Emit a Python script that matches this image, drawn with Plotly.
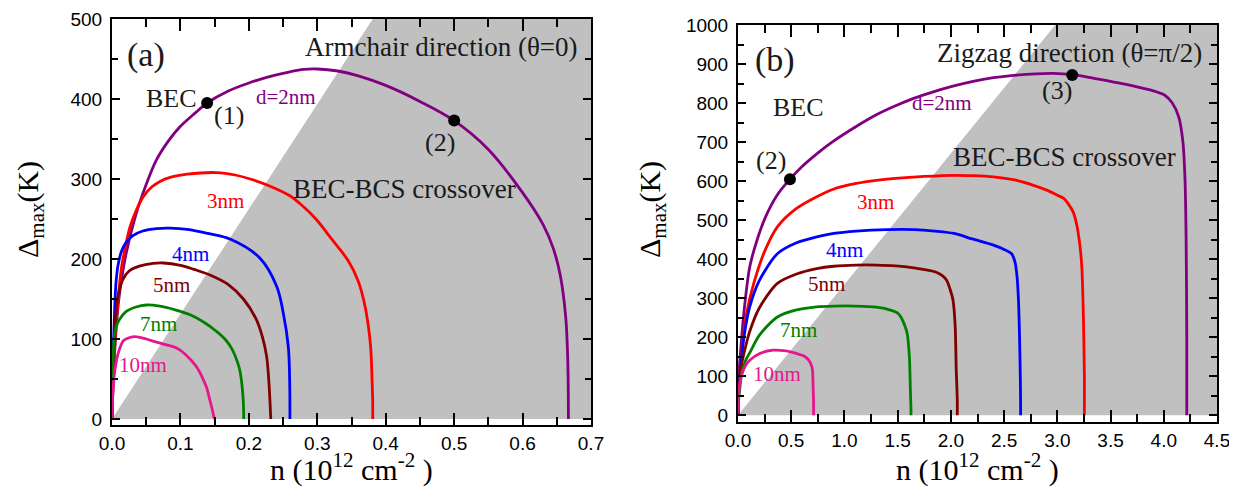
import plotly.graph_objects as go

# ---------------- data: panel (a) armchair ----------------
a_2nm_n = [0, 0.002, 0.005, 0.01, 0.0202, 0.0347, 0.053, 0.065, 0.082, 0.099, 0.1222, 0.139, 0.17, 0.2, 0.23, 0.26, 0.28, 0.3, 0.33, 0.36, 0.4, 0.45, 0.5, 0.55, 0.6, 0.63, 0.645, 0.655, 0.663, 0.666, 0.667]
a_2nm_d = [0, 50, 100, 150, 205, 255, 300, 324, 347, 365, 383, 395, 410, 420, 428, 434, 437, 437.5, 435, 429, 417, 397, 373, 337, 283, 243, 213, 180, 128, 75, 0]
a_3nm_n = [0, 0.002, 0.005, 0.009, 0.014, 0.02, 0.0263, 0.035, 0.0458, 0.058, 0.0702, 0.085, 0.11, 0.153, 0.18, 0.202, 0.231, 0.26, 0.275, 0.298, 0.32, 0.345, 0.36, 0.368, 0.374, 0.378, 0.38, 0.381, 0.381]
a_3nm_d = [0, 55, 105, 150, 190, 217, 240, 260, 278, 290, 297, 302, 306, 308, 305, 300, 291, 279, 269, 250, 226, 198, 172, 148, 120, 90, 50, 20, 0]
a_4nm_n = [0, 0.002, 0.004, 0.006, 0.009, 0.014, 0.02, 0.03, 0.045, 0.065, 0.085, 0.11, 0.14, 0.1724, 0.2163, 0.2406, 0.2504, 0.2577, 0.2597, 0.26]
a_4nm_d = [0, 90, 140, 172, 193, 210, 220, 229, 235, 238, 238.5, 237, 232, 225, 201, 166, 132, 90, 45, 0]
a_5nm_n = [0, 0.002, 0.004, 0.0078, 0.0156, 0.025, 0.04, 0.06, 0.075, 0.1, 0.12, 0.143, 0.17, 0.192, 0.21, 0.22, 0.226, 0.229, 0.231, 0.232]
a_5nm_d = [0, 70, 105, 149, 174, 185, 191, 194.5, 195, 192, 187, 180, 168, 150, 126, 102, 78, 50, 20, 0]
a_7nm_n = [0, 0.001, 0.0029, 0.006, 0.0107, 0.02, 0.035, 0.0507, 0.07, 0.09, 0.115, 0.136, 0.152, 0.165, 0.175, 0.183, 0.187, 0.19, 0.192, 0.1925]
a_7nm_d = [0, 45, 99, 115, 124, 134, 140, 142.5, 141, 137, 130, 120, 110, 100, 88, 72, 60, 42, 20, 0]
a_10nm_n = [0, 0.001, 0.003, 0.0055, 0.0087, 0.013, 0.017, 0.025, 0.0336, 0.05, 0.065, 0.078, 0.0936, 0.107, 0.1237, 0.133, 0.138, 0.1432, 0.147, 0.1495]
a_10nm_d = [0, 30, 52, 68, 81, 92, 98, 101.5, 103, 100, 96, 93, 89, 81, 65, 50, 40, 23, 10, 0]
a_points_n = [0.139, 0.5]
a_points_d = [395, 373]
a_shade_n = [0, 0.381, 0.7, 0.7, 0]
a_shade_d = [0, 500, 500, 0, 0]

# ---------------- data: panel (b) zigzag ----------------
b_2nm_n = [0, 0.005, 0.015, 0.037, 0.07, 0.11, 0.18, 0.26, 0.37, 0.488, 0.6, 0.74, 0.9, 1.11, 1.3, 1.48, 1.65, 1.85, 2.0, 2.22, 2.4, 2.59, 2.8, 2.96, 3.14, 3.3, 3.51, 3.7, 3.88, 4.01, 4.08, 4.14, 4.18, 4.2, 4.21, 4.216, 4.216]
b_2nm_d = [0, 80, 130, 209, 300, 380, 450, 509, 565, 605, 637, 670, 703, 740, 770, 793, 812, 830, 842, 856, 865, 871, 875, 876, 873, 866, 855, 845, 833, 820, 800, 765, 700, 600, 450, 200, 0]
b_3nm_n = [0, 0.005, 0.015, 0.037, 0.08, 0.148, 0.25, 0.37, 0.55, 0.74, 0.9, 1.11, 1.3, 1.48, 1.75, 2.03, 2.2, 2.4, 2.6, 2.77, 2.9, 3.0, 3.06, 3.1, 3.15, 3.18, 3.21, 3.23, 3.245, 3.254, 3.254]
b_3nm_d = [0, 60, 100, 167, 260, 338, 420, 483, 530, 560, 580, 594, 602, 607, 612, 615, 614, 611, 603, 590, 577, 564, 556, 543, 520, 491, 440, 380, 250, 100, 0]
b_4nm_n = [0, 0.005, 0.015, 0.037, 0.07, 0.11, 0.2, 0.37, 0.55, 0.74, 0.9, 1.11, 1.4, 1.66, 1.85, 2.03, 2.2, 2.4, 2.5, 2.57, 2.6, 2.62, 2.635, 2.645, 2.652, 2.655, 2.655]
b_4nm_d = [0, 50, 90, 160, 225, 278, 345, 414, 442, 457, 466, 472, 476, 476, 472, 466, 452, 436, 425, 414, 395, 360, 295, 200, 100, 30, 0]
b_5nm_n = [0, 0.005, 0.015, 0.037, 0.07, 0.11, 0.2, 0.37, 0.55, 0.74, 0.9, 1.11, 1.3, 1.48, 1.65, 1.85, 1.92, 1.96, 1.99, 2.02, 2.04, 2.05, 2.06, 2.06]
b_5nm_d = [0, 45, 80, 135, 175, 215, 275, 338, 362, 376, 382, 385, 385, 383, 378, 368, 358, 346, 325, 295, 230, 120, 40, 0]
b_7nm_n = [0, 0.005, 0.015, 0.037, 0.07, 0.11, 0.2, 0.37, 0.55, 0.74, 0.9, 1.11, 1.3, 1.44, 1.5, 1.53, 1.56, 1.59, 1.61, 1.62, 1.625, 1.625]
b_7nm_d = [0, 35, 65, 110, 140, 160, 205, 252, 270, 278, 280, 280, 277, 269, 262, 252, 235, 209, 150, 60, 15, 0]
b_10nm_n = [0, 0.003, 0.008, 0.015, 0.037, 0.07, 0.11, 0.2, 0.33, 0.45, 0.555, 0.62, 0.666, 0.69, 0.7, 0.705, 0.71, 0.71]
b_10nm_d = [0, 40, 62, 80, 106, 127, 141, 158, 167, 165, 158, 152, 141, 128, 115, 80, 30, 0]
b_points_n = [0.488, 3.14]
b_points_d = [605, 872]
b_shade_n = [0, 2.98, 4.5, 4.5, 0]
b_shade_d = [0, 1000, 1000, 0, 0]

curve_labels = ["d=2nm", "3nm", "4nm", "5nm", "7nm", "10nm"]
colors = ["#800080", "#ff0000", "#0000ff", "#800000", "#008000", "#e6168c"]
x_title = "n (10<sup>12</sup> cm<sup>-2</sup> )"
y_title = "Δ<sub>max</sub>(K)"

SERIF = "Liberation Serif, Times New Roman, serif"
SANS = "Liberation Sans, Arial, sans-serif"
GRAY = "#c0c0c0"
OFF = 8                       # default page body margin
W, H = 1237 - OFF, 490 - OFF

fig = go.Figure()

fig.add_trace(go.Scatter(x=a_shade_n, y=a_shade_d, fill="toself", fillcolor=GRAY,
                         mode="none", xaxis="x", yaxis="y", showlegend=False, hoverinfo="skip"))
fig.add_trace(go.Scatter(x=b_shade_n, y=b_shade_d, fill="toself", fillcolor=GRAY,
                         mode="none", xaxis="x2", yaxis="y2", showlegend=False, hoverinfo="skip"))

a_curves = [(a_2nm_n, a_2nm_d), (a_3nm_n, a_3nm_d), (a_4nm_n, a_4nm_d),
            (a_5nm_n, a_5nm_d), (a_7nm_n, a_7nm_d), (a_10nm_n, a_10nm_d)]
b_curves = [(b_2nm_n, b_2nm_d), (b_3nm_n, b_3nm_d), (b_4nm_n, b_4nm_d),
            (b_5nm_n, b_5nm_d), (b_7nm_n, b_7nm_d), (b_10nm_n, b_10nm_d)]

for (xs, ys), c, name in zip(a_curves, colors, curve_labels):
    fig.add_trace(go.Scatter(x=xs, y=ys, mode="lines", name=name,
                             line=dict(color=c, width=2.8, shape="spline", smoothing=1.0),
                             xaxis="x", yaxis="y", showlegend=False))
for (xs, ys), c, name in zip(b_curves, colors, curve_labels):
    fig.add_trace(go.Scatter(x=xs, y=ys, mode="lines", name=name,
                             line=dict(color=c, width=2.8, shape="spline", smoothing=0.8),
                             xaxis="x2", yaxis="y2", showlegend=False))

fig.add_trace(go.Scatter(x=a_points_n, y=a_points_d, mode="markers",
                         marker=dict(color="black", size=12), xaxis="x", yaxis="y", showlegend=False))
fig.add_trace(go.Scatter(x=b_points_n, y=b_points_d, mode="markers",
                         marker=dict(color="black", size=12), xaxis="x2", yaxis="y2", showlegend=False))

def axis_common():
    return dict(showline=True, linecolor="black", linewidth=2, mirror="allticks",
                ticks="inside", tickcolor="black", tickwidth=2, automargin=False,
                showgrid=False, zeroline=False,
                tickfont=dict(family=SANS, size=19, color="black"))

# plot frames in reference-window pixels (left, right, top, bottom)
fa = (112, 591, 19, 425)
fb = (738, 1217, 25, 422)
def xdom(f): return [(f[0] - OFF) / W, (f[1] - OFF) / W]
def ydom(f): return [(H - (f[3] - OFF)) / H, (H - (f[2] - OFF)) / H]

xa = axis_common()
xa.update(domain=xdom(fa), range=[0, 0.7], dtick=0.1, tick0=0, tickformat=".1f", ticklen=12,
          minor=dict(ticks="inside", dtick=0.05, ticklen=8, tickcolor="black", tickwidth=2, showgrid=False),
          anchor="y")
ya = axis_common()
ya.update(domain=ydom(fa), range=[-7.5, 500], dtick=100, tick0=0, ticklen=8, ticklabelstandoff=4,
          minor=dict(ticks="inside", dtick=50, ticklen=6, tickcolor="black", tickwidth=2, showgrid=False),
          anchor="x")
xb = axis_common()
xb.update(domain=xdom(fb), range=[0, 4.5], dtick=0.5, tick0=0, tickformat=".1f", ticklen=12,
          minor=dict(ticks="inside", dtick=0.25, ticklen=8, tickcolor="black", tickwidth=2, showgrid=False),
          anchor="y2")
yb = axis_common()
yb.update(domain=ydom(fb), range=[-17, 1000], dtick=100, tick0=0, ticklen=8, ticklabelstandoff=4,
          minor=dict(ticks="inside", dtick=50, ticklen=6, tickcolor="black", tickwidth=2, showgrid=False),
          anchor="x2")

TXT = "#1a1a1a"
ann = []
def add(text, x, y, ref, size, color=TXT, angle=0):
    xr, yr = ref
    ann.append(dict(text=text, x=x, y=y, xref=xr, yref=yr, showarrow=False, textangle=angle,
                    font=dict(family=SERIF, size=size, color=color), xanchor="center", yanchor="middle"))

# axis titles (paper coordinates, converted from reference pixels)
P = ("paper", "paper")
def px(x): return (x - OFF) / W
def py(y): return (H - (y - OFF)) / H
add(x_title, px((fa[0] + fa[1]) / 2), py(467), P, 30, "black")
add(x_title, px((fb[0] + fb[1]) / 2), py(467), P, 30, "black")
add(y_title, px(30), py(210), P, 30, "black", -90)
add(y_title, px(652), py(210), P, 30, "black", -90)

A = ("x", "y")
B = ("x2", "y2")
add("(a)", 0.05, 455, A, 34)
add("Armchair direction (θ=0)", 0.482, 465, A, 27)
add("BEC", 0.087, 401, A, 26)
add("(1)", 0.171, 380, A, 26)
add("(2)", 0.479, 346, A, 26)
add("BEC-BCS crossover", 0.427, 288, A, 27)
a_label_pos = [(0.255, 403), (0.166, 272), (0.114, 206), (0.087, 168), (0.068, 119), (0.045, 68)]
for (x, y), c, t in zip(a_label_pos, colors, curve_labels):
    add(t, x, y, A, 21, c)

add("(b)", 0.35, 910, B, 34)
add("Zigzag direction (θ=π/2)", 3.11, 927, B, 27)
add("BEC", 0.573, 789, B, 26)
add("(2)", 0.314, 654, B, 26)
add("(3)", 3.0, 833, B, 26)
add("BEC-BCS crossover", 3.07, 662, B, 27)
b_label_pos = [(1.92, 801), (1.29, 547), (1.0, 423), (0.83, 336), (0.573, 218), (0.37, 105)]
for (x, y), c, t in zip(b_label_pos, colors, curve_labels):
    add(t, x, y, B, 21, c)

fig.update_layout(width=W, height=H, margin=dict(l=0, r=0, t=0, b=0, autoexpand=False),
                  paper_bgcolor="white", plot_bgcolor="white",
                  xaxis=xa, yaxis=ya, xaxis2=xb, yaxis2=yb,
                  annotations=ann, showlegend=False)

fig.write_html("out.html")
